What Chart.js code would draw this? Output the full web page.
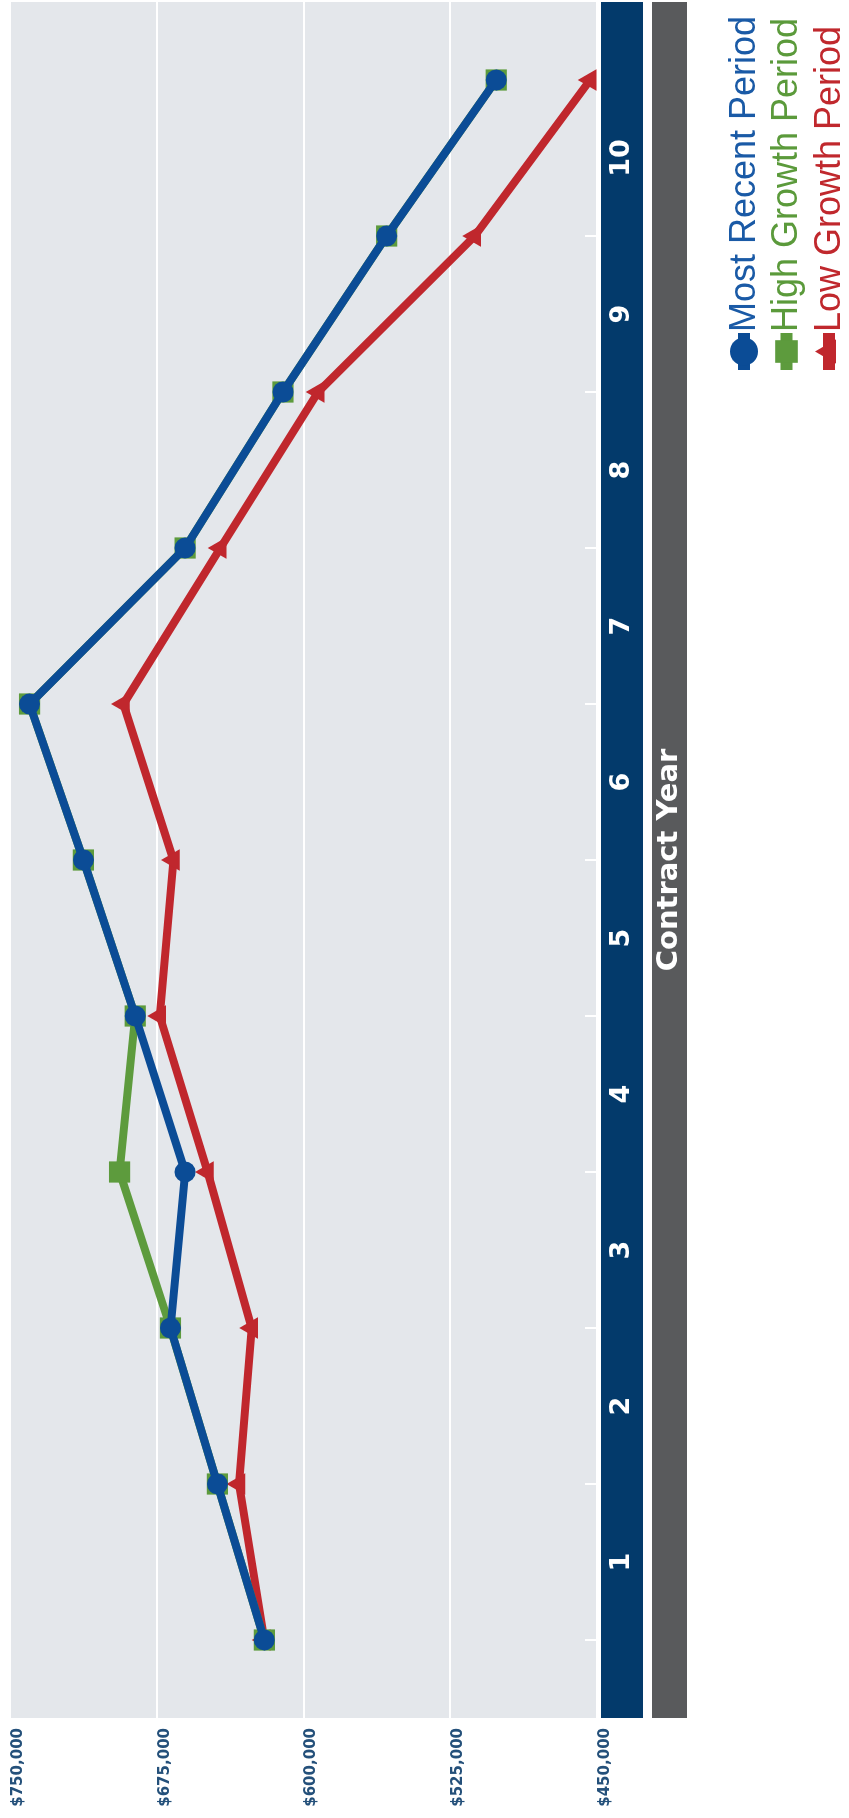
<!DOCTYPE html>
<html lang="en">
<head>
<meta charset="utf-8">
<title>Contract Year</title>
<script src="https://cdn.jsdelivr.net/npm/chart.js@4.4.1/dist/chart.umd.min.js"></script>
<style>
  html, body { margin: 0; padding: 0; background: #ffffff; overflow: hidden; }
  body { width: 849px; height: 1818px; position: relative; }
  /* the chart is drawn landscape, then turned a quarter turn counter-clockwise */
  #stage {
    position: absolute; left: 0; top: 0;
    width: 1818px; height: 849px;
    transform-origin: 0 0;
    transform: translateY(1818px) rotate(-90deg);
  }
</style>
</head>
<body>
<div id="stage"><canvas id="chart" width="1818" height="849"></canvas></div>
<script>
"use strict";

/* ─── Data ──────────────────────────────────────────────────── */

/* Period boundaries where the points sit (year labels fall between them) */
const POINT_INDEX = [0, 1, 2, 3, 4, 5, 6, 7, 8, 9, 10];

/* Contract year labels */
const YEAR_LABELS = ["1", "2", "3", "4", "5", "6", "7", "8", "9", "10"];

/* Value axis ticks */
const VALUE_TICKS = [450000, 525000, 600000, 675000, 750000];

/* Series */
const MOST_RECENT = [620000, 644000, 668000, 660500, 686000, 712500, 740000, 660500, 610500, 557500, 501500];
const HIGH_GROWTH = [620000, 644000, 668000, 694000, 686000, 712500, 740000, 660500, 610500, 557500, 501500];
const LOW_GROWTH  = [620000, 633000, 626500, 649000, 673500, 666500, 692000, 642500, 592500, 512500, 453500];

const SERIES_NAMES = ["Most Recent Period", "High Growth Period", "Low Growth Period"];

/* ─── Styles ────────────────────────────────────────────────── */

const LINE_COLORS = ["#0b4c96", "#5d9b3d", "#c0272d"];
const TEXT_COLORS = ["#1a5aa6", "#5b9a3b", "#c0282d"];
const PLOT_BG = "#e4e7eb";
const BAND_TICKS = "#033a6b";
const BAND_TITLE = "#595a5c";
const BOLD_FONT = '"DejaVu Sans", Verdana, sans-serif';
const LEGEND_FONT = '36px "Liberation Sans", Arial, sans-serif';

/* ─── Helpers ───────────────────────────────────────────────── */

/*
 * Pairs a series with the period positions.
 * @param {Array} values
 * @returns {Array}
 */
function toPoints(values) {
  return values.map(function (v, i) {
    return { x: POINT_INDEX[i], y: v };
  });
}

/*
 * Formats a value tick as dollars.
 * @param {number} v
 * @returns {string}
 */
function dollars(v) {
  return "$" + Number(v).toLocaleString("en-US");
}

/* ─── Plugins ───────────────────────────────────────────────── */

/* Grey plot area plus the two coloured bands under it */
const backdrop = {
  id: "backdrop",
  beforeDraw: function (chart) {
    const ctx = chart.ctx;
    const a = chart.chartArea;
    ctx.save();
    ctx.fillStyle = PLOT_BG;
    ctx.fillRect(a.left, a.top, a.right - a.left, a.bottom - a.top);
    ctx.fillStyle = BAND_TICKS;
    ctx.fillRect(a.left, a.bottom + 4, a.right - a.left, 42);
    ctx.fillStyle = BAND_TITLE;
    ctx.fillRect(a.left, a.bottom + 55, a.right - a.left, 35);
    ctx.restore();
  },
};

/* Short white marks at each period boundary, inside the plot */
const periodMarks = {
  id: "periodMarks",
  beforeDatasetsDraw: function (chart) {
    const ctx = chart.ctx;
    const a = chart.chartArea;
    const xs = chart.scales.x;
    ctx.save();
    ctx.strokeStyle = "#ffffff";
    ctx.lineWidth = 2;
    POINT_INDEX.forEach(function (v) {
      const px = xs.getPixelForValue(v);
      ctx.beginPath();
      ctx.moveTo(px, a.bottom - 12);
      ctx.lineTo(px, a.bottom);
      ctx.stroke();
    });
    ctx.restore();
  },
};

/* Stacked legend at the lower right */
const stackedLegend = {
  id: "stackedLegend",
  afterDraw: function (chart) {
    const ctx = chart.ctx;
    const top = chart.scales.x.bottom + 57;
    const left = chart.width - 370;
    ctx.save();
    ctx.font = LEGEND_FONT;
    ctx.textAlign = "left";
    ctx.textBaseline = "middle";
    chart.data.datasets.forEach(function (ds, i) {
      const y = top + i * 42.5;
      ctx.strokeStyle = ds.borderColor;
      ctx.fillStyle = ds.borderColor;
      ctx.lineWidth = 12;
      ctx.beginPath();
      ctx.moveTo(left, y);
      ctx.lineTo(left + 37, y);
      ctx.stroke();
      Chart.helpers.drawPoint(ctx, {
        pointStyle: ds.pointStyle,
        radius: i === 1 ? 16 : 14,
        borderWidth: 0,
        rotation: 0,
      }, left + 18.5, y);
      ctx.fillStyle = TEXT_COLORS[i];
      ctx.fillText(ds.label, left + 38, y + 1);
    });
    ctx.restore();
  },
};

/* ─── Chart ─────────────────────────────────────────────────── */

/*
 * Builds one line dataset.
 */
function lineSet(i, values, style, radius) {
  return {
    label: SERIES_NAMES[i],
    data: toPoints(values),
    borderColor: LINE_COLORS[i],
    backgroundColor: LINE_COLORS[i],
    borderWidth: 8,
    tension: 0,
    pointStyle: style,
    pointRadius: radius,
    pointBorderWidth: 0,
    pointBackgroundColor: LINE_COLORS[i],
  };
}

new Chart(document.getElementById("chart"), {
  type: "line",
  data: {
    datasets: [
      lineSet(0, MOST_RECENT, "circle", 10.5),
      lineSet(1, HIGH_GROWTH, "rect", 15),
      lineSet(2, LOW_GROWTH, "triangle", 12.5),
    ],
  },
  options: {
    responsive: false,
    animation: false,
    events: [],
    layout: {
      autoPadding: false,
      padding: { top: 10, right: 2, bottom: 162, left: 0 },
    },
    plugins: {
      legend: { display: false },
      tooltip: { enabled: false },
    },
    scales: {
      x: {
        type: "linear",
        position: "bottom",
        min: -0.5,
        max: 10.5,
        afterBuildTicks: function (s) {
          s.ticks = YEAR_LABELS.map(function (_, i) {
            return { value: POINT_INDEX[i] + 0.5 };
          });
        },
        afterFit: function (s) {
          s.height = 90;
          s.paddingLeft = 0;
          s.paddingRight = 0;
        },
        grid: { display: false, drawTicks: false },
        border: { display: false },
        ticks: {
          color: "#ffffff",
          font: { family: BOLD_FONT, size: 27, weight: "bold" },
          padding: 8.8,
          maxRotation: 0,
          autoSkip: false,
          callback: function (v, i) {
            return YEAR_LABELS[i];
          },
        },
        title: {
          display: true,
          text: "Contract Year",
          color: "#ffffff",
          font: { family: BOLD_FONT, size: 29, weight: "bold" },
          padding: { top: 0, bottom: 0 },
        },
      },
      y: {
        min: 450000,
        max: 750000,
        afterBuildTicks: function (s) {
          s.ticks = VALUE_TICKS.map(function (v) {
            return { value: v };
          });
        },
        afterFit: function (s) {
          s.width = 100;
          s.paddingTop = 0;
          s.paddingBottom = 0;
        },
        grid: { color: "#ffffff", lineWidth: 2, drawTicks: false },
        border: { display: false },
        ticks: {
          color: "#24507a",
          font: { family: BOLD_FONT, size: 15, weight: "bold" },
          padding: 10,
          labelOffset: 8,
          callback: dollars,
        },
      },
    },
  },
  plugins: [backdrop, periodMarks, stackedLegend],
});
</script>
</body>
</html>
